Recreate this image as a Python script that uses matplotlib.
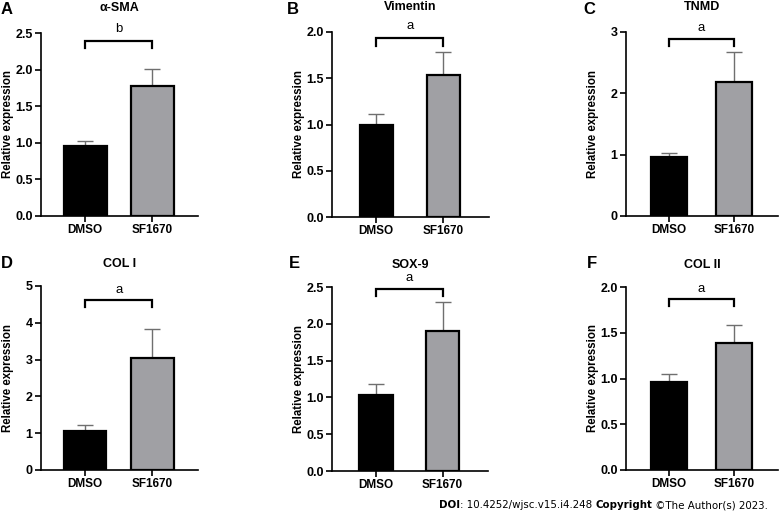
import matplotlib
matplotlib.use("Agg")
import matplotlib.pyplot as plt
from matplotlib.text import Annotation

plt.rcParams["font.family"] = ["Liberation Sans", "DejaVu Sans"]

# data
groups = ["DMSO", "SF1670"]
panel_letters = ["A", "B", "C", "D", "E", "F"]
titles = ["α-SMA", "Vimentin", "TNMD", "COL I", "SOX-9", "COL II"]
dmso_mean = [0.95, 0.99, 0.97, 1.05, 1.03, 0.96]
dmso_err = [0.08, 0.12, 0.06, 0.17, 0.15, 0.09]
sf_mean = [1.77, 1.54, 2.19, 3.03, 1.90, 1.39]
sf_err = [0.24, 0.24, 0.49, 0.80, 0.39, 0.20]
sig_labels = ["b", "a", "a", "a", "a", "a"]
y_max = [2.5, 2.0, 3, 5, 2.5, 2.0]
y_step = [0.5, 0.5, 1, 1, 0.5, 0.5]
y_fmt = ["{:.1f}", "{:.1f}", "{:.0f}", "{:.0f}", "{:.1f}", "{:.1f}"]

# layout (pixels in a 781x513 figure)
W, H = 781, 513
axes_px = [(41, 198, 33, 216), (332, 489, 32, 217), (626, 778, 32, 216),
           (41, 198, 286, 470), (332, 488, 287, 471), (626, 778, 287, 470)]
bar_w = [0.64, 0.5, 0.56, 0.63, 0.5, 0.55]
bracket_frac = [0.956, 0.967, 0.962, 0.924, 0.989, 0.934]
letter_frac = [1.02, 1.03, 1.02, 0.98, 1.05, 0.99]
title_pad = [16, 16, 16, 14, 14, 14]
letter_px = [(1, 9), (287, 9), (583, 9), (1, 263), (289, 263), (587, 263)]

fig = plt.figure(figsize=(W / 100, H / 100), dpi=100)

for i in range(6):
    x0, x1, top, bot = axes_px[i]
    ax = fig.add_axes([x0 / W, 1 - bot / H, (x1 - x0) / W, (bot - top) / H])
    means = [dmso_mean[i], sf_mean[i]]
    errs = [dmso_err[i], sf_err[i]]
    ax.bar([0, 1], means, width=bar_w[i], color=["black", "#a0a0a4"],
           edgecolor="black", linewidth=1.6, zorder=2)
    ax.errorbar([0, 1], means, yerr=[[0, 0], errs], fmt="none",
                ecolor="#6f6f6f", elinewidth=1.0, capsize=5.5, capthick=1.0, zorder=1)

    ym = y_max[i]
    ax.set_xlim(-0.66, 1.68)
    ax.set_ylim(0, ym)
    n = int(round(ym / y_step[i]))
    ticks = [k * y_step[i] for k in range(n + 1)]
    ax.set_yticks(ticks)
    ax.set_yticklabels([y_fmt[i].format(t) for t in ticks])
    ax.set_xticks([0, 1])
    ax.set_xticklabels(groups)

    for s in ["top", "right"]:
        ax.spines[s].set_visible(False)
    for s in ["left", "bottom"]:
        ax.spines[s].set_linewidth(1.2)
    ax.tick_params(axis="both", direction="out", length=4, width=1.2, pad=2)
    ax.tick_params(axis="x", labelsize=8.5)
    ax.tick_params(axis="y", labelsize=9)
    for lab in ax.get_xticklabels() + ax.get_yticklabels():
        lab.set_fontweight("bold")

    ax.set_ylabel("Relative expression", fontsize=8.3, fontweight="bold")
    ax.yaxis.set_label_coords(-27 / (x1 - x0), 0.5)
    ax.set_title(titles[i], fontsize=9, fontweight="bold", pad=title_pad[i])

    # significance bracket
    by = bracket_frac[i] * ym
    drop = 0.04 * ym
    ax.plot([0, 0, 1, 1], [by - drop, by, by, by - drop], color="black",
            lw=1.6, clip_on=False, zorder=4, solid_joinstyle="miter")
    ax.text(0.5, letter_frac[i] * ym, sig_labels[i], ha="center", va="center",
            fontsize=9.5, clip_on=False)

    lx, ly = letter_px[i]
    fig.text(lx / W, 1 - ly / H, panel_letters[i], fontsize=12, fontweight="bold",
             ha="left", va="center")

# footer
t0 = fig.text(439 / W, 1 - 505 / H, "DOI", fontsize=7.4, fontweight="bold",
              family="DejaVu Sans", ha="left", va="center")
parts = [(": 10.4252/wjsc.v15.i4.248 ", "normal"), ("Copyright", "bold"),
         (" ©The Author(s) 2023.", "normal")]
prev = t0
for txt, wt in parts:
    a = Annotation(txt, xy=(1, 0.5), xycoords=prev, ha="left", va="center",
                   fontsize=7.4, fontweight=wt, family="DejaVu Sans")
    fig.add_artist(a)
    prev = a

fig.savefig("out.png", dpi=100)
